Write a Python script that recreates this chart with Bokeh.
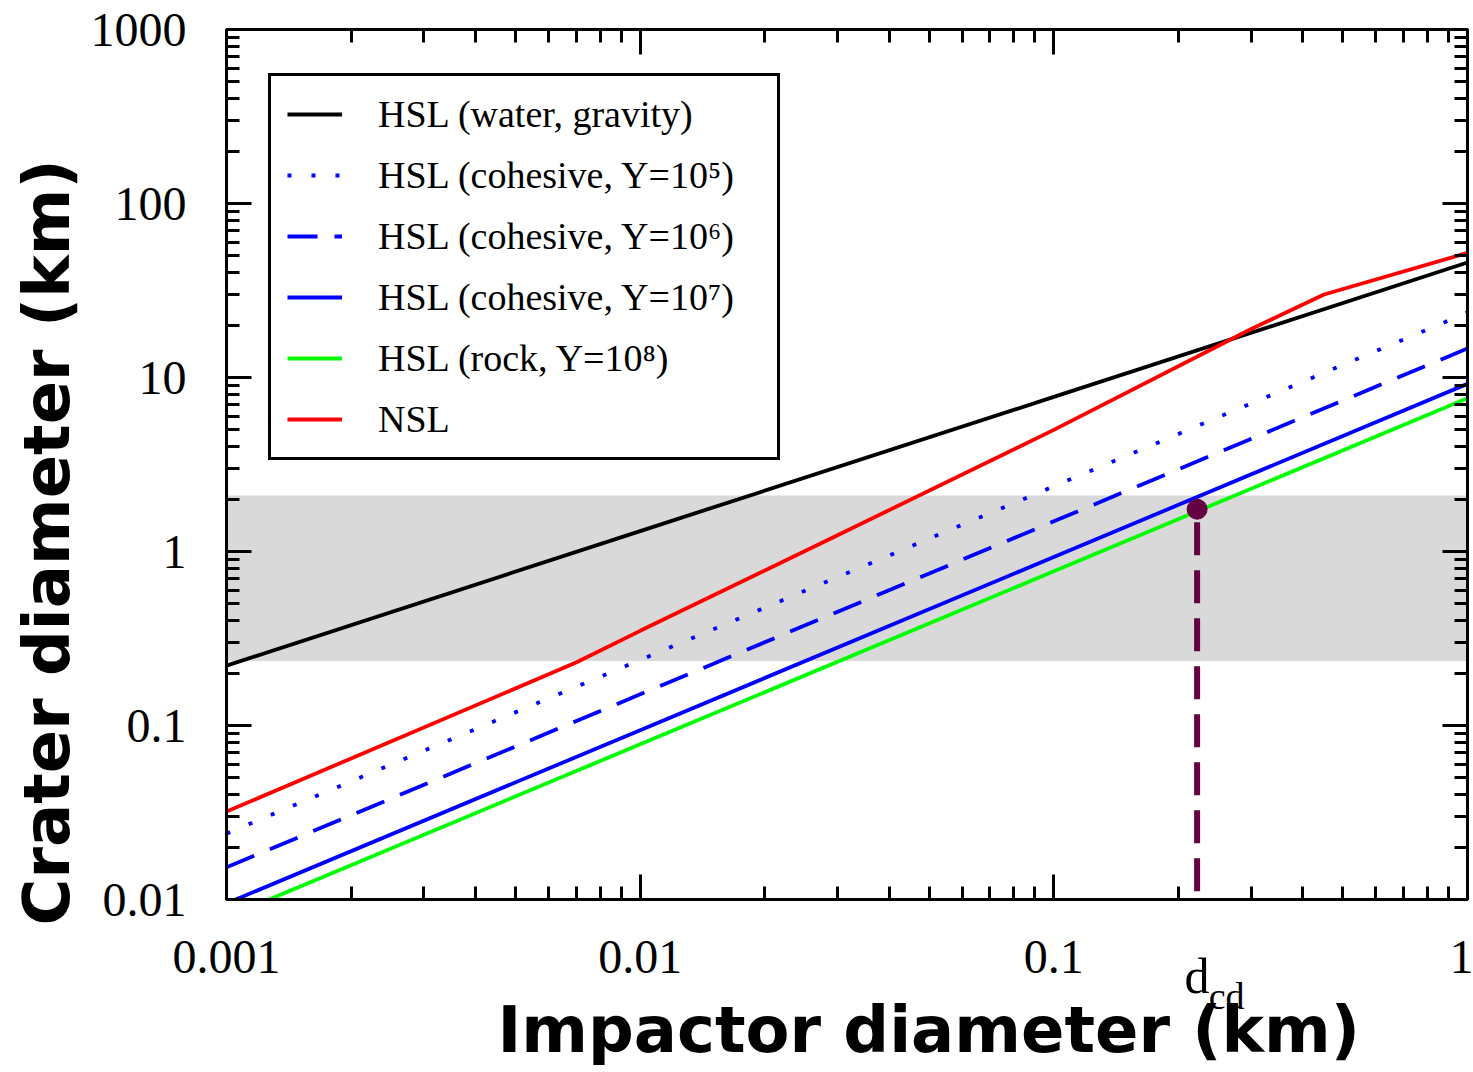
from bokeh.plotting import figure
from bokeh.models import (LogAxis, FixedTicker, CustomJSTickFormatter, BoxAnnotation,
                          Legend, Title)
from bokeh.embed import file_html
from bokeh.resources import INLINE

# ---------------- data ----------------
impactor_km = [0.001, 0.01, 0.1, 1.0]
hsl_water_gravity = [0.221, 1.31, 7.74, 45.8]
hsl_cohesive_y1e5 = [0.0239, 0.238, 2.37, 23.6]
hsl_cohesive_y1e6 = [0.0153, 0.151, 1.49, 14.7]
hsl_cohesive_y1e7 = [0.0095, 0.094, 0.93, 9.2]
hsl_rock_y1e8 = [0.0079, 0.078, 0.77, 7.6]

nsl_impactor_km = [0.001, 0.007, 0.01, 0.03, 0.1, 0.3, 0.45, 1.0]
nsl_crater_km = [0.032, 0.23, 0.35, 1.24, 5.0, 19.0, 30.0, 52.0]

band_crater_km = [0.235, 2.1]
d_cd_km = 0.222
d_cd_crater_km = 1.75

x_major_ticks = [0.001, 0.01, 0.1, 1.0]
y_major_ticks = [0.01, 0.1, 1.0, 10.0, 100.0, 1000.0]

legend_labels = [
    "HSL (water, gravity)",
    "HSL (cohesive, Y=10\u2075)",
    "HSL (cohesive, Y=10\u2076)",
    "HSL (cohesive, Y=10\u2077)",
    "HSL (rock, Y=10\u2078)",
    "NSL",
]
x_title = "Impactor diameter (km)"
y_title = "Crater diameter (km)"
d_label = "d"
cd_label = "cd"


def minor_of(majors):
    out = []
    for m in majors[:-1]:
        for k in range(2, 10):
            out.append(m * k)
    return out


x_ticker = FixedTicker(ticks=x_major_ticks, minor_ticks=minor_of(x_major_ticks))
y_ticker = FixedTicker(ticks=y_major_ticks, minor_ticks=minor_of(y_major_ticks))

p = figure(width=1473, height=1072, x_axis_type="log", y_axis_type="log",
           x_range=(x_major_ticks[0], x_major_ticks[-1]),
           y_range=(y_major_ticks[0], y_major_ticks[-1]),
           output_backend="svg", toolbar_location=None,
           min_border_left=226, min_border_top=29, min_border_right=6,
           min_border_bottom=173)
p.xgrid.visible = False
p.ygrid.visible = False
p.outline_line_color = "black"
p.outline_line_width = 3
p.background_fill_color = "white"
p.border_fill_color = "white"

fmt = CustomJSTickFormatter(code="return tick.toString();")
blank_fmt = CustomJSTickFormatter(code="return ' ';")


def style_axis(ax, ticker, labels):
    ax.ticker = ticker
    ax.axis_line_color = "black"
    ax.axis_line_width = 3
    ax.major_tick_in = 25
    ax.major_tick_out = 0
    ax.minor_tick_in = 13
    ax.minor_tick_out = 0
    ax.major_tick_line_width = 3
    ax.minor_tick_line_width = 3
    ax.major_tick_line_color = "black"
    ax.minor_tick_line_color = "black"
    if labels:
        ax.formatter = fmt
        ax.major_label_text_font = "Liberation Serif"
        ax.major_label_text_font_size = "48px"
        ax.major_label_text_color = "black"
    else:
        ax.formatter = blank_fmt
        ax.major_label_text_font_size = "2px"
        ax.major_label_text_alpha = 0.0
        ax.major_label_standoff = 0


style_axis(p.xaxis[0], x_ticker, True)
style_axis(p.yaxis[0], y_ticker, True)
p.xaxis[0].major_label_standoff = 41
p.yaxis[0].major_label_standoff = 40

top_ax = LogAxis()
right_ax = LogAxis()
style_axis(top_ax, x_ticker, False)
style_axis(right_ax, y_ticker, False)
p.add_layout(top_ax, "above")
p.add_layout(right_ax, "right")


def text_axis(tick, text, size, standoff):
    ax = LogAxis(ticker=FixedTicker(ticks=[tick], minor_ticks=[]),
                 formatter=CustomJSTickFormatter(args=dict(t=text), code="return t;"))
    ax.axis_line_color = None
    ax.major_tick_line_color = None
    ax.minor_tick_line_color = None
    ax.major_tick_in = 0
    ax.major_tick_out = 0
    ax.minor_tick_in = 0
    ax.minor_tick_out = 0
    ax.major_label_standoff = standoff
    ax.major_label_text_font = "Liberation Serif"
    ax.major_label_text_font_size = size
    ax.major_label_text_color = "black"
    return ax


# "d" centred on d_cd, subscript "cd" just to its right (29 px, one decade = 413.7 px)
cd_anchor_km = d_cd_km * 10 ** (29.5 / 413.7)
p.add_layout(text_axis(d_cd_km, d_label, "50px", -28), "below")
p.add_layout(text_axis(cd_anchor_km, cd_label, "38px", -32), "below")

p.add_layout(Title(text=x_title, align="left", offset=271, standoff=-58,
                   text_font="DejaVu Sans", text_font_style="bold",
                   text_font_size="64px", text_color="black"), "below")
p.add_layout(Title(text=y_title, align="left", offset=-26, standoff=8,
                   text_font="DejaVu Sans", text_font_style="bold",
                   text_font_size="64px", text_color="black"), "left")

# grey band
p.add_layout(BoxAnnotation(bottom=band_crater_km[0], top=band_crater_km[1],
                           fill_color="#d9d9d9", fill_alpha=1.0,
                           line_color=None, level="underlay"))

# lines
lw = 3.8
r_black = p.line(impactor_km, hsl_water_gravity, line_color="black", line_width=lw)
r_dot = p.line(impactor_km, hsl_cohesive_y1e5, line_color="#0000ff", line_width=lw,
               line_dash="4 20")
r_dash = p.line(impactor_km, hsl_cohesive_y1e6, line_color="#0000ff", line_width=lw,
                line_dash="30 17")
r_solid = p.line(impactor_km, hsl_cohesive_y1e7, line_color="#0000ff", line_width=lw)
r_green = p.line(impactor_km, hsl_rock_y1e8, line_color="#00ff00", line_width=lw)
r_red = p.line(nsl_impactor_km, nsl_crater_km, line_color="#ff0000", line_width=lw)

# d_cd marker
p.line([d_cd_km, d_cd_km], [d_cd_crater_km, y_major_ticks[0]], line_color="#660044",
       line_width=6, line_dash="33 15", line_dash_offset=35)
p.scatter([d_cd_km], [d_cd_crater_km], size=20, color="#660044")

legend = Legend(items=[(legend_labels[0], [r_black]), (legend_labels[1], [r_dot]),
                       (legend_labels[2], [r_dash]), (legend_labels[3], [r_solid]),
                       (legend_labels[4], [r_green]), (legend_labels[5], [r_red])],
                location=(42, 439), margin=0, padding=16, spacing=17,
                glyph_width=55, glyph_height=30, label_standoff=36,
                label_width=383,
                label_text_font="Liberation Serif", label_text_font_size="38px",
                label_text_color="black",
                border_line_color="black", border_line_width=3, border_line_alpha=1.0,
                background_fill_color="white", background_fill_alpha=1.0)
p.add_layout(legend)

open("out.html", "w").write(file_html(p, INLINE))
